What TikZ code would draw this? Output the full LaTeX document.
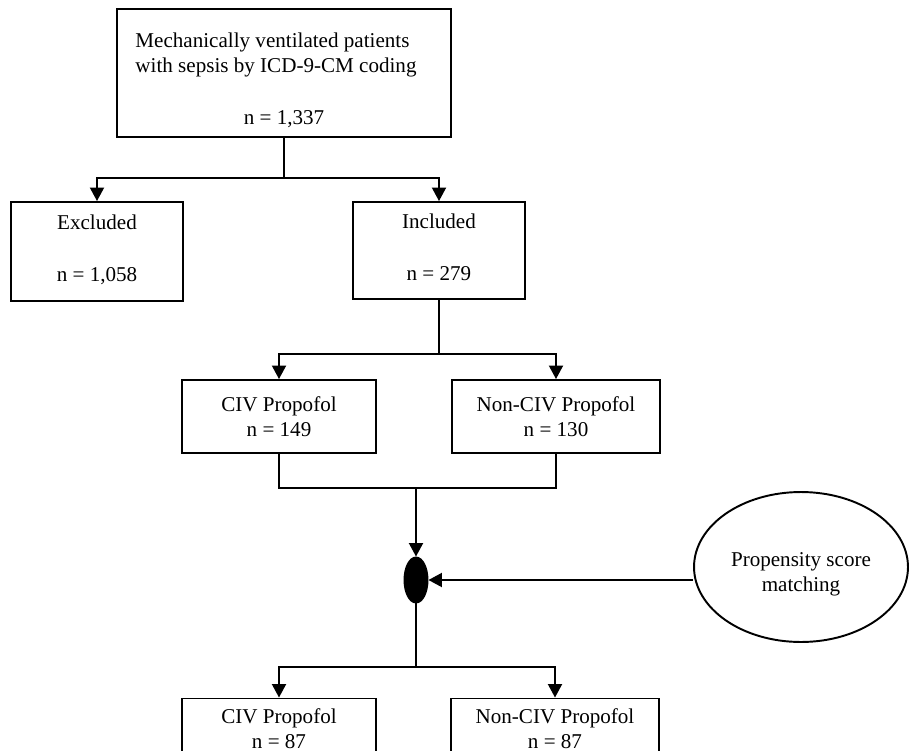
\documentclass[tikz,border=0pt]{standalone}
\usepackage{fontspec}
\setmainfont{Liberation Serif}
\usetikzlibrary{arrows.meta,shapes.geometric}
\tikzset{
    flowbox/.style={draw, rectangle, line width=1.1pt, align=center, inner sep=0pt},
    flowline/.style={line width=1.1pt},
    flowarrow/.style={flowline, -{Triangle[length=0.27cm,width=0.28cm]}}
}

\begin{document}
\begin{tikzpicture}[x=0.02cm, y=-0.02cm, font=\fontsize{12}{14.2}\selectfont]
    \useasboundingbox (0,0) rectangle (910,751);
    \clip (0,0) rectangle (910,751);
    % boxes
    \node[flowbox, minimum width=6.68cm, minimum height=2.56cm] (cohort) at (284,73) {
        \begin{tabular}{@{}l@{\hspace{0.32cm}}}\rule{0pt}{0.59cm}Mechanically ventilated patients\\with sepsis by ICD-9-CM coding\end{tabular}\\[0.58cm]
        n = 1,337
    };
    \node[flowbox, minimum width=3.44cm, minimum height=1.98cm] (excl) at (97,251.5) {Excluded\\[0.54cm] n = 1,058\rule[-0.15cm]{0pt}{0.1pt}};
    \node[flowbox, minimum width=3.44cm, minimum height=1.94cm] (incl) at (439,250.5) {Included\\[0.54cm] n = 279\rule[-0.15cm]{0pt}{0.1pt}};
    \node[flowbox, minimum width=3.88cm, minimum height=1.46cm] (civA) at (279,416.5) {CIV Propofol\\ n = 149};
    \node[flowbox, minimum width=4.16cm, minimum height=1.46cm] (nonA) at (556,416.5) {Non-CIV Propofol\\ n = 130};
    \node[draw, ellipse, fill=black, line width=1.1pt, minimum width=0.46cm, minimum height=0.9cm, inner sep=0pt] (match) at (416,580) {};
    \node[draw, ellipse, line width=1.1pt, minimum width=4.28cm, minimum height=3cm, inner sep=0pt] (psm) at (801,567) {
        \begin{tabular}{@{}c@{}}\rule{0pt}{0.63cm}Propensity score\\matching\end{tabular}
    };
    \node[flowbox, minimum width=3.88cm, minimum height=1.22cm] (civB) at (279,729) {CIV Propofol\\ n = 87};
    \node[flowbox, minimum width=4.16cm, minimum height=1.22cm] (nonB) at (555,729) {Non-CIV Propofol\\ n = 87};
    % split points
    \coordinate (s1) at (284,178);
    \coordinate (s2) at (439,354);
    \coordinate (s3) at (416,488);
    \coordinate (s4) at (416,667);
    % connectors
    \draw[flowline] (cohort.south) -- (s1);
    \draw[flowarrow] (s1) -| (excl.north);
    \draw[flowarrow] (s1) -| (incl.north);
    \draw[flowline] (incl.south) -- (s2);
    \draw[flowarrow] (s2) -| (civA.north);
    \draw[flowarrow] (s2) -| (nonA.north);
    \draw[flowline] (civA.south) |- (s3) -| (nonA.south);
    \draw[flowarrow] (s3) -- (match.north);
    \draw[flowarrow] (psm.west |- match.east) -- (match.east);
    \draw[flowline] (match.south) -- (s4);
    \draw[flowarrow] (s4) -| (civB.north);
    \draw[flowarrow] (s4) -| (nonB.north);
\end{tikzpicture}
\end{document}
